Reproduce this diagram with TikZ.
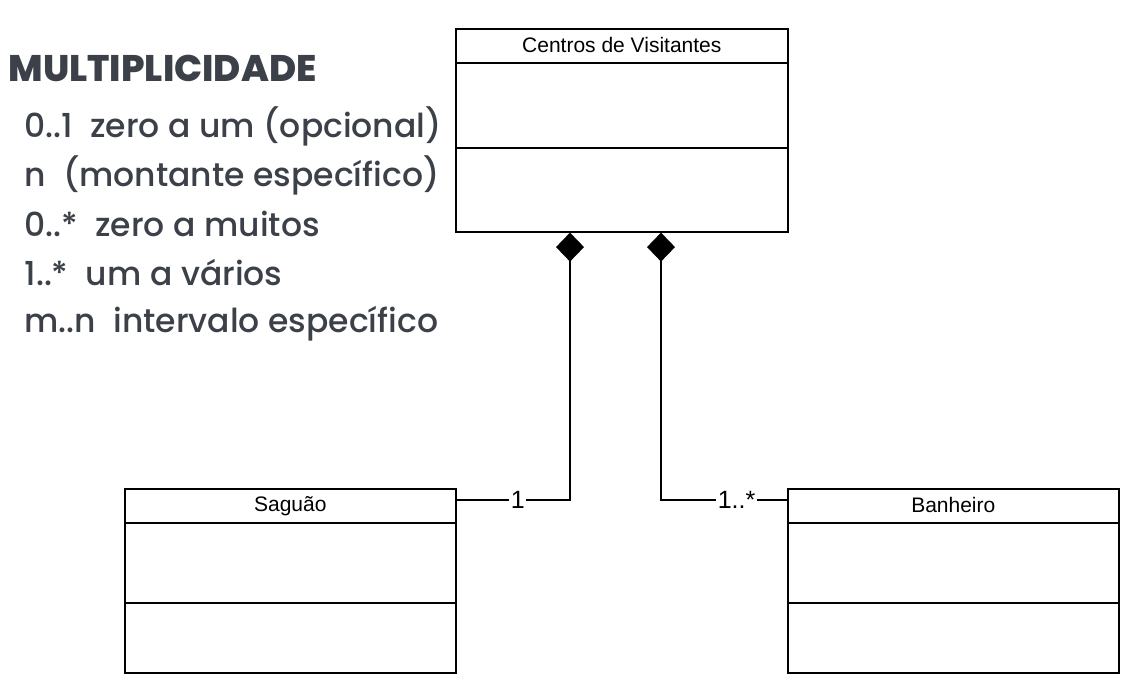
\documentclass[tikz,border=0pt]{standalone}
\usepackage{fontspec}
\setmainfont{Liberation Sans}
\newfontfamily\popfont{Poppins}[UprightFont=* Medium, BoldFont=* ExtraBold]
\usetikzlibrary{arrows.meta,calc}
\definecolor{txtgray}{HTML}{3C4149}
\begin{document}
\begin{tikzpicture}[x=1pt,y=-1pt,
  umlbox/.style={draw=black,line width=1.6pt,rectangle,inner sep=0pt,anchor=north west},
  sepline/.style={line width=1.6pt},
  comp/.style={line width=1.6pt,{Diamond[length=29pt,width=28pt]}-},
  mult/.style={fill=white,inner sep=1.5pt,font=\fontsize{25}{28}\selectfont},
  hdr/.style={font=\fontsize{21}{24}\selectfont},
  legtitle/.style={anchor=base west,text=txtgray,font=\popfont\bfseries\fontsize{37}{42}\selectfont},
  legline/.style={anchor=base west,text=txtgray,font=\popfont\fontsize{33}{38}\selectfont}]
\useasboundingbox (0,0) rectangle (1145,692);
% boxes
\node[umlbox,minimum width=332pt,minimum height=203pt] (cv) at (455,28) {};
\node[umlbox,minimum width=331pt,minimum height=184pt] (sag) at (124,488) {};
\node[umlbox,minimum width=331pt,minimum height=184pt] (ban) at (787,488) {};
% compartments
\draw[sepline] ([yshift=-35pt]cv.north west) -- ([yshift=-35pt]cv.north east);
\draw[sepline] ([yshift=-120pt]cv.north west) -- ([yshift=-120pt]cv.north east);
\draw[sepline] ([yshift=-35pt]sag.north west) -- ([yshift=-35pt]sag.north east);
\draw[sepline] ([yshift=-115pt]sag.north west) -- ([yshift=-115pt]sag.north east);
\draw[sepline] ([yshift=-35pt]ban.north west) -- ([yshift=-35pt]ban.north east);
\draw[sepline] ([yshift=-115pt]ban.north west) -- ([yshift=-115pt]ban.north east);
% headers
\node[hdr] (cvt) at ($(cv.north)+(0,17)$) {Centros de Visitantes};
\node[hdr] (sagt) at ($(sag.north)+(0,18)$) {Saguão};
\node[hdr] (bant) at ($(ban.north)+(0,17)$) {Banheiro};
% connectors
\draw[comp] ([xshift=115pt]cv.south west) |- ([yshift=-12pt]sag.north east)
  node[mult,pos=0.73] (m1) {1};
\draw[comp] ([xshift=206pt]cv.south west) |- ([yshift=-12pt]ban.north west)
  node[mult,pos=0.8] (m2) {1..*};
% legend
\node[legtitle] (lt) at (5,82) {MULTIPLICIDADE};
\node[legline] (l1) at (21,138) {0..1\ \ zero a um (opcional)};
\node[legline] (l2) at (21,187) {n\ \ (montante específico)};
\node[legline] (l3) at (21,237) {0..*\ \ zero a muitos};
\node[legline] (l4) at (21,286) {1..*\ \ um a vários};
\node[legline] (l5) at (21,333) {m..n\ \ intervalo específico};
\end{tikzpicture}
\end{document}
